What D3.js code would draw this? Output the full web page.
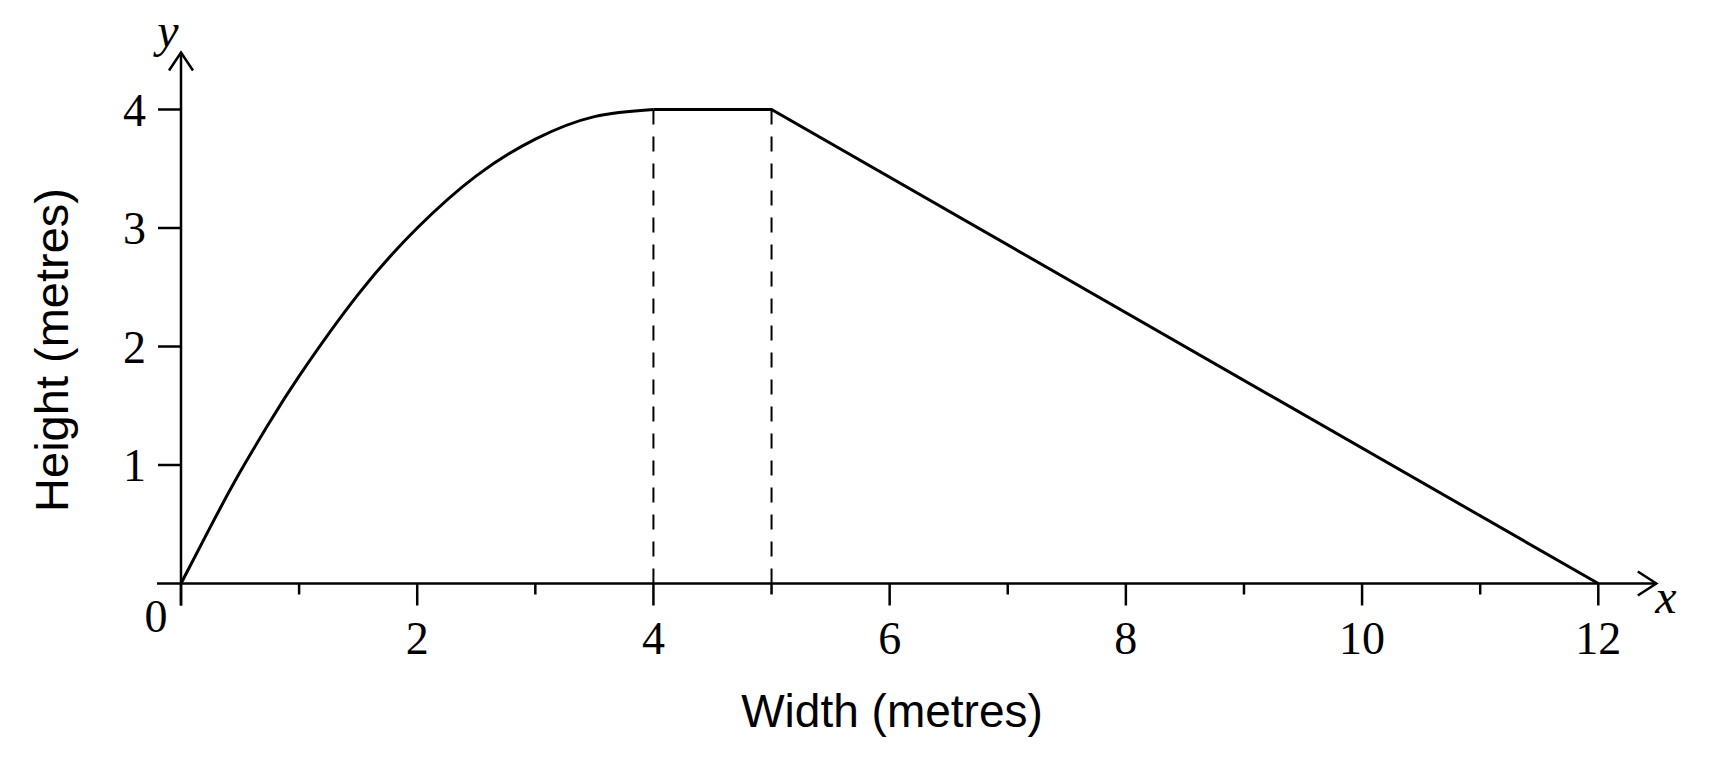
<!DOCTYPE html>
<html>
<head>
<meta charset="utf-8">
<script src="https://cdn.jsdelivr.net/npm/d3@7"></script>
<style>
  body { margin: 0; background: white; }
  svg { display: block; }
</style>
</head>
<body>
<svg width="1712" height="758"></svg>
<script>
// data
let courbeX = [0, 0.25, 0.5, 0.75, 1, 1.5, 2, 2.5, 3, 3.5, 4];
let courbeY = [0, 0.48, 0.94, 1.36, 1.75, 2.44, 3.0, 3.44, 3.75, 3.94, 4];
let segmentX = [4, 5, 12];
let segmentY = [4, 4, 0];
let pointillesX = [4, 5];
let pointillesY = [4, 4];
let ticksMajeursX = [0, 2, 4, 6, 8, 10, 12];
let ticksMineursX = [1, 3, 5, 7, 9, 11];
let ticksY = [1, 2, 3, 4];
let labelsX = ["0", "2", "4", "6", "8", "10", "12"];
let labelsY = ["1", "2", "3", "4"];

let svg = d3.select("svg");

let x = d3.scaleLinear().domain([0, 12]).range([181, 1598.3]);
let y = d3.scaleLinear().domain([0, 4]).range([583.5, 109.5]);

let serif = "'Liberation Serif', 'Times New Roman', serif";
let sans = "'Liberation Sans', Arial, sans-serif";

// axes
let axes = svg.append("g")
    .attr("stroke", "black")
    .attr("stroke-width", 2.5)
    .attr("fill", "none");

axes.append("line")
    .attr("x1", x(0) - 24).attr("y1", y(0))
    .attr("x2", x(12) + 58).attr("y2", y(0));

axes.append("line")
    .attr("x1", x(0)).attr("y1", y(0) + 22)
    .attr("x2", x(0)).attr("y2", y(4) - 57);

// arrow heads (open chevrons)
axes.append("polyline")
    .attr("points", [[x(12) + 39.5, y(0) - 12], [x(12) + 58, y(0)], [x(12) + 39.5, y(0) + 12]].join(" "));
axes.append("polyline")
    .attr("points", [[x(0) - 12, y(4) - 39], [x(0), y(4) - 57], [x(0) + 12, y(4) - 39]].join(" "));

// ticks
axes.selectAll("line.majeur")
    .data(ticksMajeursX)
    .enter()
    .append("line")
    .attr("class", "majeur")
    .attr("x1", d => x(d)).attr("x2", d => x(d))
    .attr("y1", y(0)).attr("y2", y(0) + 22);

axes.selectAll("line.mineur")
    .data(ticksMineursX)
    .enter()
    .append("line")
    .attr("class", "mineur")
    .attr("x1", d => x(d)).attr("x2", d => x(d))
    .attr("y1", y(0)).attr("y2", y(0) + 11);

axes.selectAll("line.tickY")
    .data(ticksY)
    .enter()
    .append("line")
    .attr("class", "tickY")
    .attr("x1", x(0) - 23).attr("x2", x(0))
    .attr("y1", d => y(d)).attr("y2", d => y(d));

// tick labels
svg.selectAll("text.labelX")
    .data(ticksMajeursX)
    .enter()
    .append("text")
    .attr("class", "labelX")
    .attr("x", d => d == 0 ? x(d) - 25 : x(d))
    .attr("y", d => d == 0 ? y(0) + 48.5 : y(0) + 70.5)
    .attr("text-anchor", "middle")
    .style("font-family", serif)
    .style("font-size", "46px")
    .text((d, i) => labelsX[i]);

svg.selectAll("text.labelY")
    .data(ticksY)
    .enter()
    .append("text")
    .attr("class", "labelY")
    .attr("x", x(0) - 35)
    .attr("y", d => y(d) + 16)
    .attr("text-anchor", "end")
    .style("font-family", serif)
    .style("font-size", "46px")
    .text((d, i) => labelsY[i]);

// axis letters
svg.append("text")
    .attr("x", 168).attr("y", 47)
    .attr("text-anchor", "middle")
    .style("font-family", serif)
    .style("font-style", "italic")
    .style("font-size", "48px")
    .text("y");

svg.append("text")
    .attr("x", 1666).attr("y", 613)
    .attr("text-anchor", "middle")
    .style("font-family", serif)
    .style("font-style", "italic")
    .style("font-size", "48px")
    .text("x");

// titles
svg.append("text")
    .attr("x", 892).attr("y", 727)
    .attr("text-anchor", "middle")
    .style("font-family", sans)
    .style("font-size", "46px")
    .text("Width (metres)");

svg.append("text")
    .attr("transform", "translate(68,350) rotate(-90)")
    .attr("text-anchor", "middle")
    .style("font-family", sans)
    .style("font-size", "47px")
    .text("Height (metres)");

// dashed verticals
svg.selectAll("line.pointille")
    .data(pointillesX.map((d, i) => ({x: d, y: pointillesY[i]})))
    .enter()
    .append("line")
    .attr("class", "pointille")
    .attr("x1", d => x(d.x)).attr("x2", d => x(d.x))
    .attr("y1", d => y(d.y)).attr("y2", y(0))
    .attr("stroke", "black")
    .attr("stroke-width", 2)
    .attr("stroke-dasharray", "15 12");

// the profile
let courbe = courbeX.map((d, i) => ({x: d, y: courbeY[i]}));
let segment = segmentX.map((d, i) => ({x: d, y: segmentY[i]}));

svg.append("path")
    .datum(courbe)
    .attr("d", d3.line().x(d => x(d.x)).y(d => y(d.y)).curve(d3.curveNatural))
    .attr("fill", "none")
    .attr("stroke", "black")
    .attr("stroke-width", 3);

svg.append("path")
    .datum(segment)
    .attr("d", d3.line().x(d => x(d.x)).y(d => y(d.y)))
    .attr("fill", "none")
    .attr("stroke", "black")
    .attr("stroke-width", 3)
    .attr("stroke-linejoin", "miter");
</script>
</body>
</html>
